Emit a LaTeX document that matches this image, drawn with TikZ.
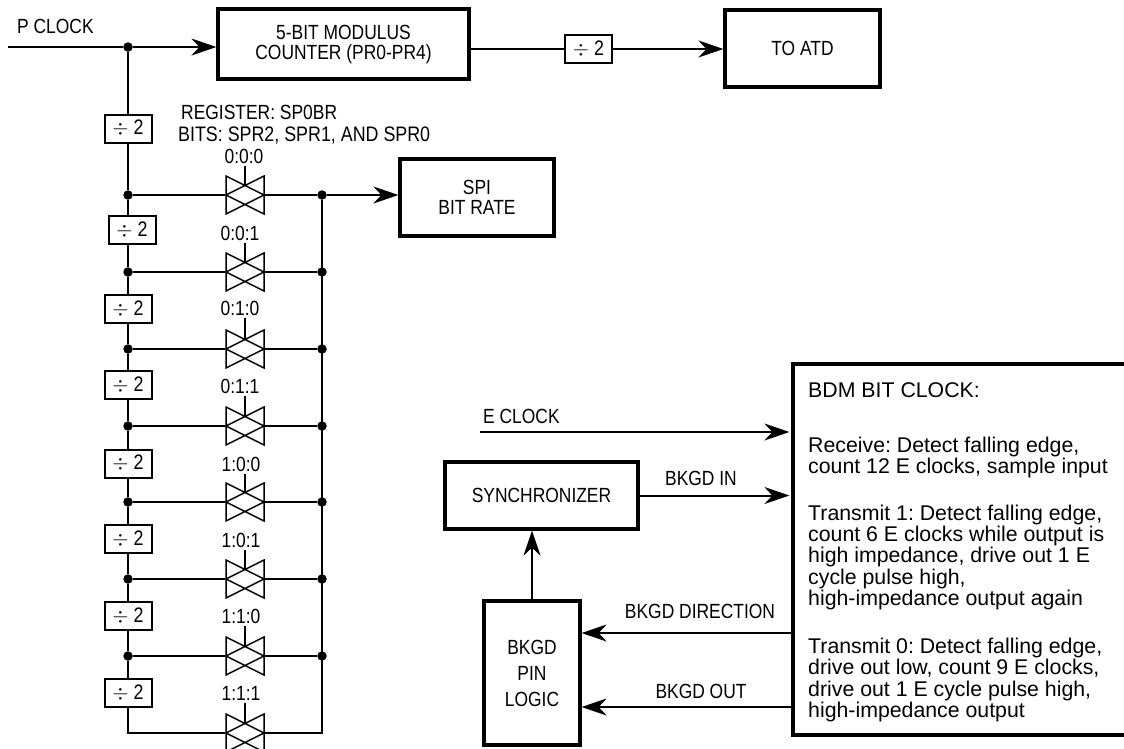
\documentclass[tikz,border=0pt]{standalone}
\usepackage{fontspec}
\usepackage{xcolor}
\usepackage{tikz}
\usetikzlibrary{calc,arrows.meta}
\setmainfont{Liberation Sans}
\newfontfamily\narrowfont[FakeStretch=0.85]{Liberation Sans}
\frenchspacing
\tikzset{
  wire/.style={line width=2pt},
  arrowwire/.style={wire,-{Stealth[length=25pt,width=17pt,inset=8pt]}},
  bigbox/.style={draw,line width=3.2pt,fill=white,inner sep=0pt,align=center,font=\narrowfont\fontsize{20.5}{20}\selectfont},
  divbox/.style={draw,line width=2pt,fill=white,inner sep=0pt,minimum width=47pt,minimum height=28pt,font=\narrowfont\fontsize{21}{20}\selectfont},
  dot/.style={circle,fill=black,inner sep=0pt,minimum size=9.5pt},
  lbl/.style={inner sep=3pt,anchor=base,font=\narrowfont\fontsize{20.5}{20}\selectfont},
  lblleft/.style={lbl,anchor=base west},
  gate/.style={inner sep=0pt,minimum size=40pt,path picture={
    \draw[line width=1.5pt,shift={(path picture bounding box.center)}] (-19,-19)--(19,0)--(-19,19)--cycle (19,-19)--(-19,0)--(19,19)--cycle;}},
}
\begin{document}
\begin{tikzpicture}[x=1pt,y=-1pt]
\useasboundingbox (0,0) rectangle (1124,748);
% top row
\coordinate (pin) at (8,47);
\node[dot] (pdot) at (128,47) {};
\node[lblleft] (pclock) at (14,33) {P CLOCK};
\node[bigbox,minimum width=251pt,minimum height=70pt] (modulus) at (343.5,44) {5-BIT MODULUS\\COUNTER (PR0-PR4)};
\node[divbox] (divtop) at (588.5,49) {$\div$ 2};
\node[bigbox,minimum width=155pt,minimum height=77pt] (atd) at (802.5,48.5) {TO ATD};
\draw[wire] (pin)--(pdot);
\draw[arrowwire] (pdot)--(modulus.west |- pdot);
\draw[wire] (modulus.east |- divtop)--(divtop);
\draw[arrowwire] (divtop)--(atd.west |- divtop);
% register text
\node[lblleft] (reg) at (178,119) {REGISTER: SP0BR};
\node[lblleft,font=\narrowfont\fontsize{21}{20}\selectfont] (bits) at (175,141) {BITS: SPR2, SPR1, AND SPR0};
% dividers
\node[divbox] (div1) at (128,128.5) {$\div$ 2};
\node[divbox] (div2) at (132,230) {$\div$ 2};
\node[divbox] (div3) at (128,309) {$\div$ 2};
\node[divbox] (div4) at (128,385) {$\div$ 2};
\node[divbox] (div5) at (128,463.5) {$\div$ 2};
\node[divbox] (div6) at (128,539) {$\div$ 2};
\node[divbox] (div7) at (128,616) {$\div$ 2};
\node[divbox] (div8) at (128,693) {$\div$ 2};
% left bus dots
\node[dot] (d1) at (128,195) {};
\node[dot] (d2) at (128,272) {};
\node[dot] (d3) at (128,349) {};
\node[dot] (d4) at (128,426) {};
\node[dot] (d5) at (128,502) {};
\node[dot] (d6) at (128,579) {};
\node[dot] (d7) at (128,656) {};
\coordinate (d8) at (128,733);
% gates
\node[gate] (g1) at (245,195) {};
\node[gate] (g2) at (245,272) {};
\node[gate] (g3) at (245,349) {};
\node[gate] (g4) at (245,426) {};
\node[gate] (g5) at (245,502) {};
\node[gate] (g6) at (245,579) {};
\node[gate] (g7) at (245,656) {};
\node[gate] (g8) at (245,733) {};
% gate labels
\node[lbl] (l1) at (244,163) {0:0:0};
\node[lbl] (l2) at (240,240) {0:0:1};
\node[lbl] (l3) at (240,315) {0:1:0};
\node[lbl] (l4) at (240,393) {0:1:1};
\node[lbl] (l5) at (241,471) {1:0:0};
\node[lbl] (l6) at (241,547) {1:0:1};
\node[lbl] (l7) at (241,623) {1:1:0};
\node[lbl] (l8) at (241,700) {1:1:1};
% right bus dots
\node[dot] (r1) at (322,195) {};
\node[dot] (r2) at (322,272) {};
\node[dot] (r3) at (322,349) {};
\node[dot] (r4) at (322,426) {};
\node[dot] (r5) at (322,502) {};
\node[dot] (r6) at (322,579) {};
\node[dot] (r7) at (322,656) {};
\coordinate (r8) at (322,733);
% left bus
\draw[wire] (pdot)--(div1)--(d1)--(d1 |- div2.north);
\draw[wire] (d1 |- div2.south)--(d2)--(div3)--(d3)--(div4)--(d4)--(div5)--(d5)--(div6)--(d6)--(div7)--(d7)--(div8)--(d8)--(g8)--(r8)--(r1);
% rows
\draw[wire] (d1)--(g1)--(r1);
\draw[wire] (d2)--(g2)--(r2);
\draw[wire] (d3)--(g3)--(r3);
\draw[wire] (d4)--(g4)--(r4);
\draw[wire] (d5)--(g5)--(r5);
\draw[wire] (d6)--(g6)--(r6);
\draw[wire] (d7)--(g7)--(r7);
% gate stems
\draw[wire] (g1 |- l1.south)--([yshift=9.5pt]g1.center);
\draw[wire] (g2 |- l2.south)--([yshift=9.5pt]g2.center);
\draw[wire] (g3 |- l3.south)--([yshift=9.5pt]g3.center);
\draw[wire] (g4 |- l4.south)--([yshift=9.5pt]g4.center);
\draw[wire] (g5 |- l5.south)--([yshift=9.5pt]g5.center);
\draw[wire] (g6 |- l6.south)--([yshift=9.5pt]g6.center);
\draw[wire] (g7 |- l7.south)--([yshift=9.5pt]g7.center);
\draw[wire] (g8 |- l8.south)--([yshift=9.5pt]g8.center);
% spi
\node[bigbox,minimum width=154pt,minimum height=77pt] (spi) at (477,197.5) {SPI\\BIT RATE};
\draw[arrowwire] (r1)--(spi.west |- r1);
% bdm part
\node[draw,line width=3.2pt,minimum width=341pt,minimum height=371pt] (bdm) at (963.5,549.5) {};
\node[inner sep=0pt,anchor=north west,align=left,font=\fontsize{21.3}{21.3}\selectfont] (bdmtext) at (808,382) {BDM BIT CLOCK:\\[33.7pt]
Receive: Detect falling edge,\\count 12 E clocks, sample input\\[25.7pt]
Transmit 1: Detect falling edge,\\count 6 E clocks while output is\\high impedance, drive out 1 E\\cycle pulse high,\\high-impedance output again\\[26.7pt]
Transmit 0: Detect falling edge,\\drive out low, count 9 E clocks,\\drive out 1 E cycle pulse high,\\high-impedance output};
\coordinate (eclk) at (480,432);
\node[lblleft] (eclock) at (480,423) {E CLOCK};
\draw[arrowwire,shorten >=2pt] (eclk)--(eclk -| bdm.west);
\node[bigbox,minimum width=193pt,minimum height=67pt] (sync) at (541.5,495.5) {SYNCHRONIZER};
\node[bigbox,minimum width=96pt,minimum height=144pt] (logic) at (532,673) {BKGD\\[6pt]PIN\\[6pt]LOGIC};
\draw[arrowwire,shorten >=2pt] (sync)--(sync -| bdm.west);
\draw[arrowwire] (logic.north)--(logic.north |- sync.south);
\coordinate (dirout) at (793,633);
\coordinate (bkout) at (793,707);
\draw[arrowwire] (dirout)--(dirout -| logic.east);
\draw[arrowwire] (bkout)--(bkout -| logic.east);
\node[lbl] (bkin) at (701,485) {BKGD IN};
\node[lbl] (bkdir) at (700,618) {BKGD DIRECTION};
\node[lbl] (bkoutl) at (701,698) {BKGD OUT};
\end{tikzpicture}
\end{document}
